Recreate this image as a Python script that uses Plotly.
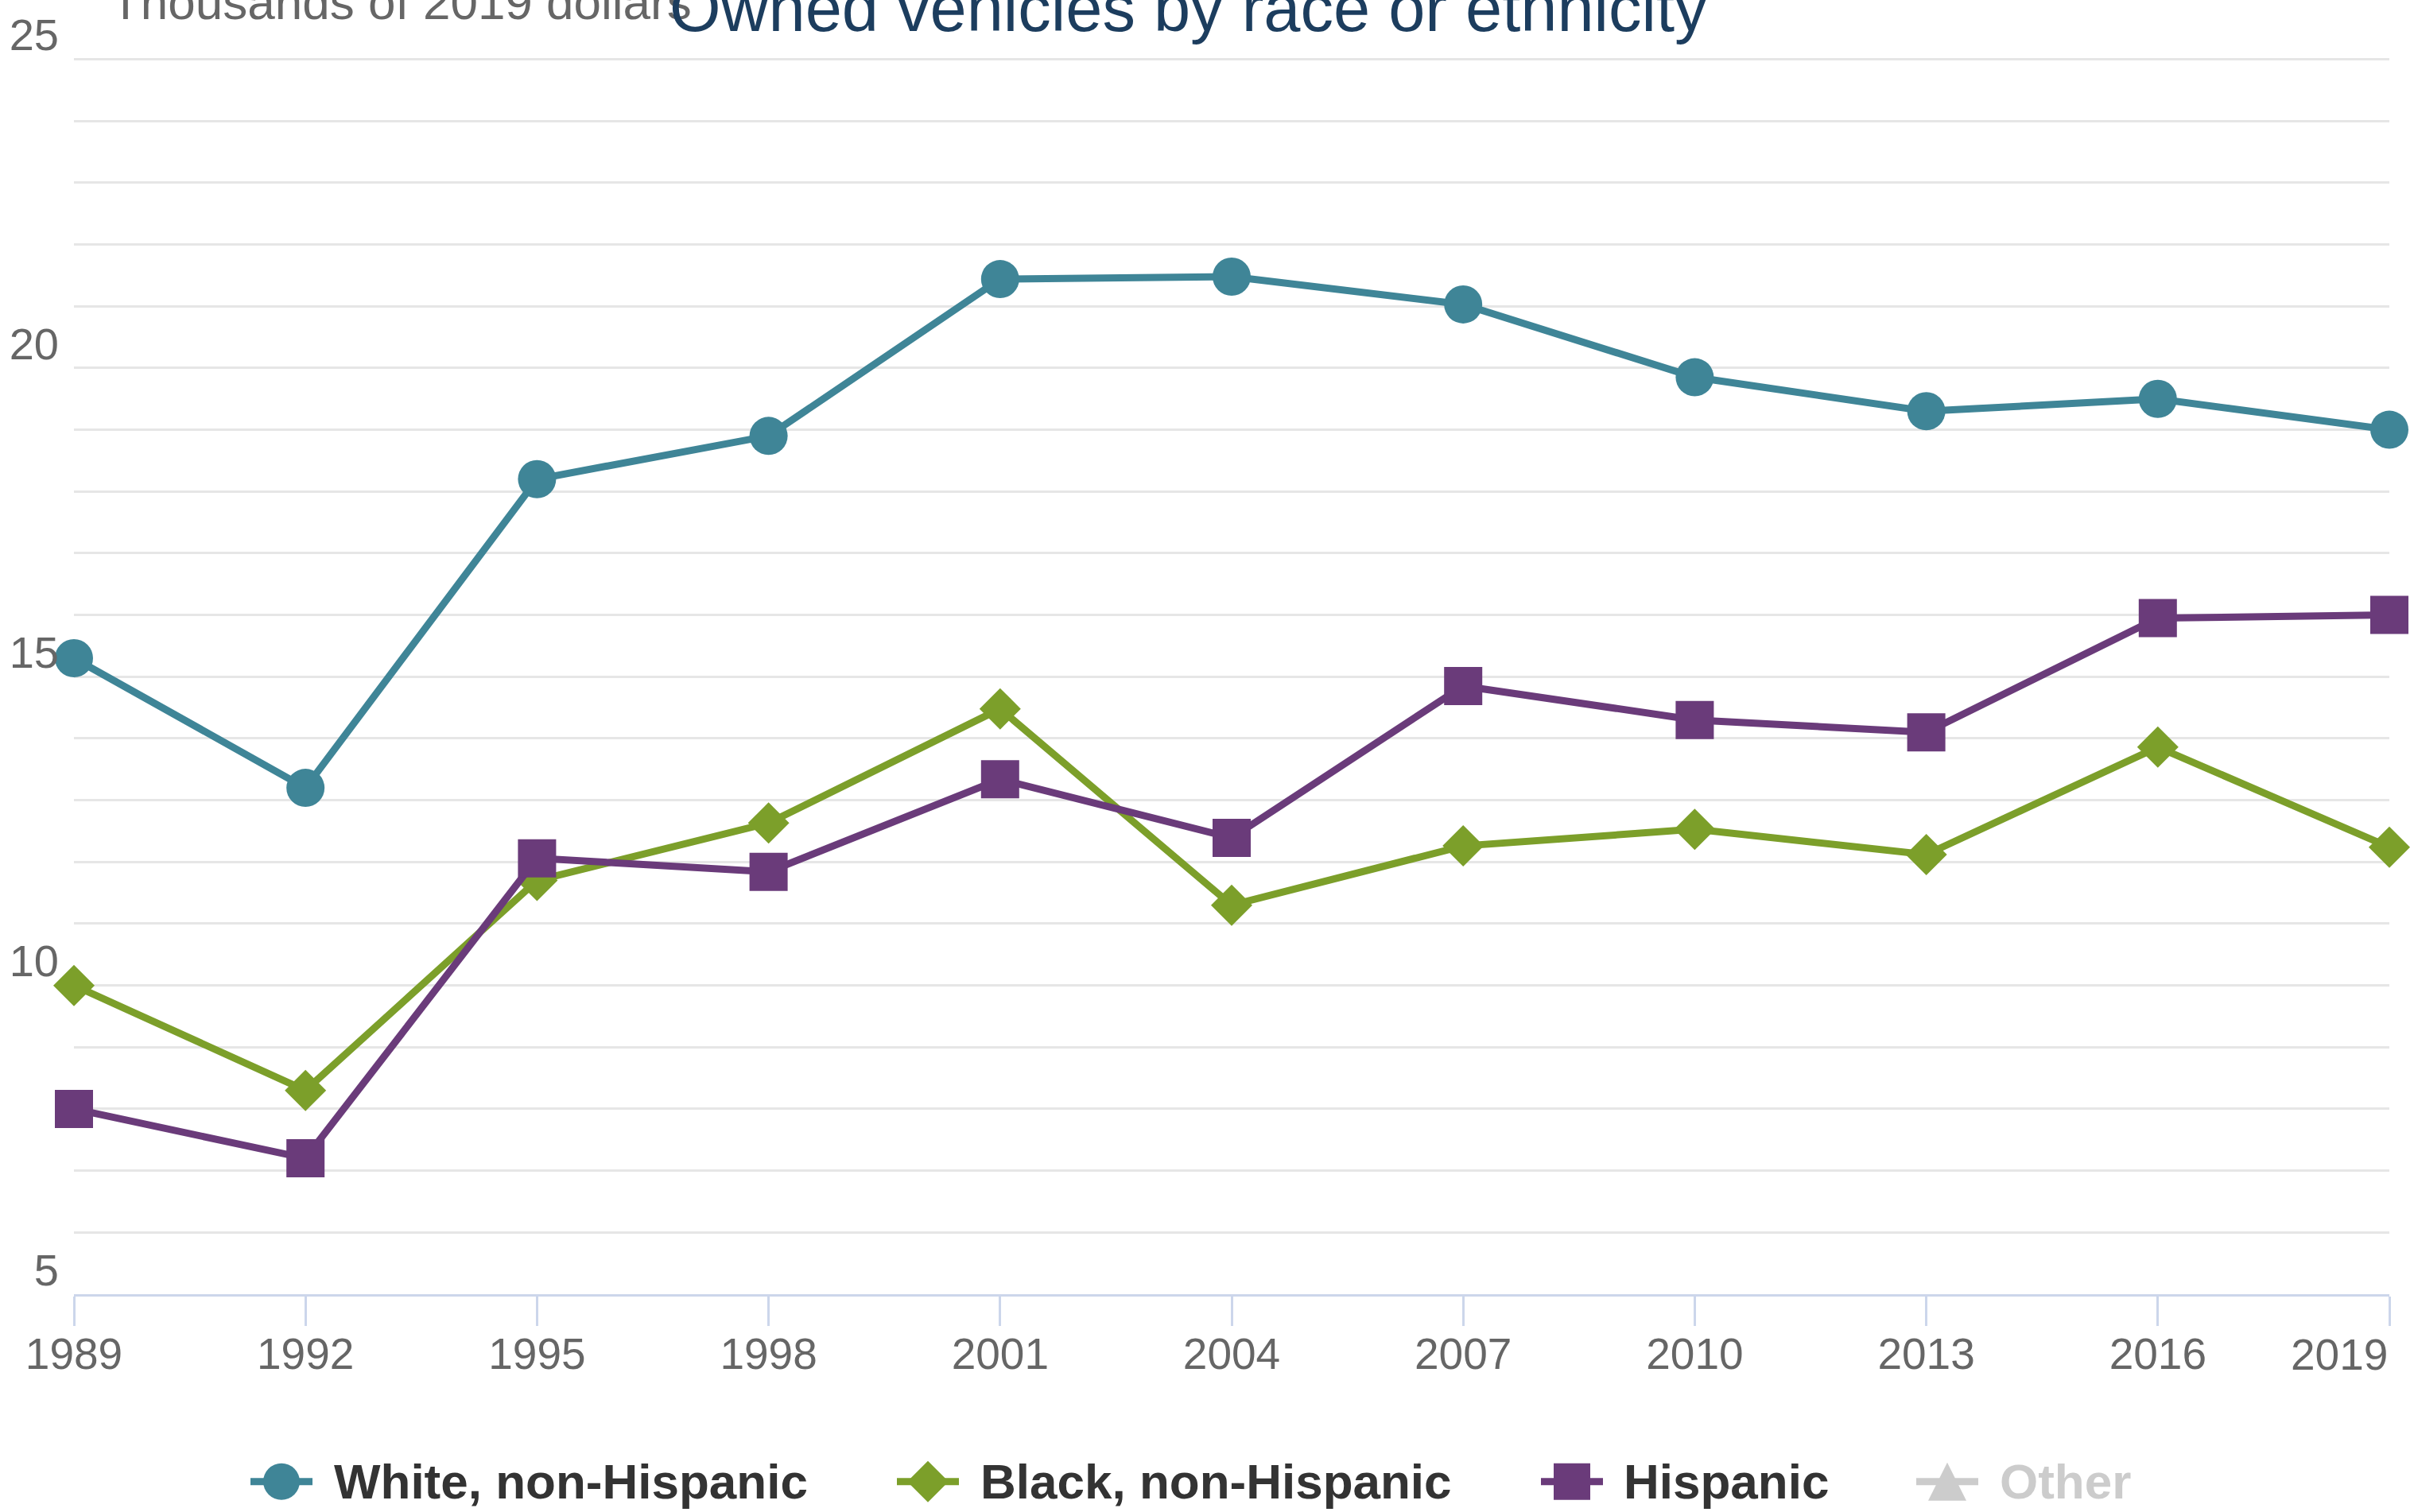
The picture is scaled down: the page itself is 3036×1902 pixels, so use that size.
import plotly.graph_objects as go

# Survey years and median value of owned vehicles (thousands of 2019 dollars)
years = [1989, 1992, 1995, 1998, 2001, 2004, 2007, 2010, 2013, 2016, 2019]
white_values = [15.3, 13.2, 18.2, 18.9, 21.44, 21.48, 21.03, 19.85, 19.3, 19.5, 19.0]
black_values = [10.0, 8.3, 11.7, 12.63, 14.48, 11.3, 12.26, 12.53, 12.12, 13.86, 12.24]
hispanic_values = [8.0, 7.2, 12.06, 11.84, 13.34, 12.39, 14.85, 14.3, 14.1, 15.95, 16.0]
other_values = []  # series hidden in the chart

series_names = ["White, non-Hispanic", "Black, non-Hispanic", "Hispanic", "Other"]
series_colors = ["#3f8597", "#7c9f2a", "#6a3b7a", "#cccccc"]
series_symbols = ["circle", "diamond", "square", "triangle-up"]

y_ticks = [5, 10, 15, 20, 25]
x_ticks = years

title_text = "Owned vehicles by race or ethnicity"
unit_text = "Thousands of 2019 dollars"

FONT = "Liberation Sans, Arial, Helvetica, sans-serif"

W, H = 3036, 1902
ML, MR, MT, MB = 93, 31, 71, 274
PW, PH = W - ML - MR, H - MT - MB
Y_MIN, Y_MAX = 5, 25.02


def px_x(px):
    return (px - ML) / PW


def px_y(py):
    return (H - MB - py) / PH


fig = go.Figure()

marker_sizes = {"circle": 48, "diamond": 40, "square": 48, "triangle-up": 44}
for name, vals, color, sym in zip(series_names[:3],
                                  [white_values, black_values, hispanic_values],
                                  series_colors[:3], series_symbols[:3]):
    fig.add_trace(go.Scatter(
        x=years, y=vals, name=name, mode="lines+markers",
        line=dict(color=color, width=9),
        marker=dict(symbol=sym, size=marker_sizes[sym], color=color),
        cliponaxis=False, showlegend=False,
    ))

fig.add_trace(go.Scatter(
    x=years[:len(other_values)], y=other_values, name=series_names[3],
    mode="lines+markers", visible="legendonly", showlegend=False,
    line=dict(color=series_colors[3], width=9),
    marker=dict(symbol=series_symbols[3], color=series_colors[3]),
))

# Custom legend row under the plot
shapes = []
annotations = []
legend_y = 1864
legend_centers = [354, 1167, 1977, 2449]
legend_text_x = [418, 1231, 2040, 2513]
text_colors = ["#333333", "#333333", "#333333", "#cccccc"]
for cx, tx, name, color, sym, tcol in zip(legend_centers, legend_text_x, series_names,
                                          series_colors, series_symbols, text_colors):
    shapes.append(dict(type="line", xref="paper", yref="paper",
                       x0=px_x(cx - 39), x1=px_x(cx + 39),
                       y0=px_y(legend_y), y1=px_y(legend_y),
                       line=dict(color=color, width=9)))
    if sym == "circle":
        r = 23
        shapes.append(dict(type="circle", xref="paper", yref="paper",
                           x0=px_x(cx - r), x1=px_x(cx + r),
                           y0=px_y(legend_y + r), y1=px_y(legend_y - r),
                           fillcolor=color, line=dict(width=0)))
    elif sym == "square":
        r = 23
        shapes.append(dict(type="rect", xref="paper", yref="paper",
                           x0=px_x(cx - r), x1=px_x(cx + r),
                           y0=px_y(legend_y + r), y1=px_y(legend_y - r),
                           fillcolor=color, line=dict(width=0)))
    elif sym == "diamond":
        r = 26
        path = (f"M{px_x(cx)},{px_y(legend_y - r)} L{px_x(cx + r)},{px_y(legend_y)} "
                f"L{px_x(cx)},{px_y(legend_y + r)} L{px_x(cx - r)},{px_y(legend_y)} Z")
        shapes.append(dict(type="path", xref="paper", yref="paper", path=path,
                           fillcolor=color, line=dict(width=0)))
    else:
        r = 24
        path = (f"M{px_x(cx)},{px_y(legend_y - r)} L{px_x(cx + r)},{px_y(legend_y + r)} "
                f"L{px_x(cx - r)},{px_y(legend_y + r)} Z")
        shapes.append(dict(type="path", xref="paper", yref="paper", path=path,
                           fillcolor=color, line=dict(width=0)))
    annotations.append(dict(text=f"<b>{name}</b>", xref="paper", yref="paper",
                            x=px_x(tx), y=px_y(legend_y), xanchor="left", yanchor="middle",
                            showarrow=False, font=dict(family=FONT, size=62, color=tcol)))

# Unit label and chart title at the top
annotations.append(dict(text=unit_text, xref="paper", yref="paper",
                        x=px_x(137), y=px_y(0), xanchor="left", yanchor="middle",
                        showarrow=False, font=dict(family=FONT, size=62, color="#666666")))
annotations.append(dict(text=title_text, xref="paper", yref="paper",
                        x=px_x(1495), y=px_y(8), xanchor="center", yanchor="middle",
                        showarrow=False, font=dict(family=FONT, size=83, color="#1c3d5e")))

# Last year label sits flush with the right end of the axis
annotations.append(dict(text=str(x_ticks[-1]), xref="x", yref="paper",
                        x=x_ticks[-1], y=px_y(1704), xanchor="right", yanchor="middle",
                        showarrow=False, font=dict(family=FONT, size=55, color="#666666")))

fig.update_layout(
    width=W, height=H,
    margin=dict(l=ML, r=MR, t=MT, b=MB, pad=0),
    paper_bgcolor="white", plot_bgcolor="white",
    showlegend=False,
    shapes=shapes, annotations=annotations,
    font=dict(family=FONT, color="#666666"),
)

fig.update_xaxes(
    range=[years[0], years[-1]], tickvals=x_ticks,
    ticktext=[str(y) for y in x_ticks[:-1]] + [""],
    showgrid=False, zeroline=False,
    showline=True, linecolor="#ccd6eb", linewidth=3,
    ticks="outside", ticklen=37, tickwidth=3, tickcolor="#ccd6eb",
    ticklabelstandoff=-12,
    tickfont=dict(family=FONT, size=55, color="#666666"),
)

fig.update_yaxes(
    range=[Y_MIN, Y_MAX], tickvals=y_ticks,
    showgrid=True, gridcolor="#e6e6e6", gridwidth=3,
    minor=dict(dtick=1, tick0=5, showgrid=True, gridcolor="#e6e6e6", gridwidth=3),
    zeroline=False, showline=False, ticks="",
    ticklabelstandoff=18, ticklabelshift=-31,
    tickfont=dict(family=FONT, size=56, color="#666666"),
)

fig.write_html("out.html")
